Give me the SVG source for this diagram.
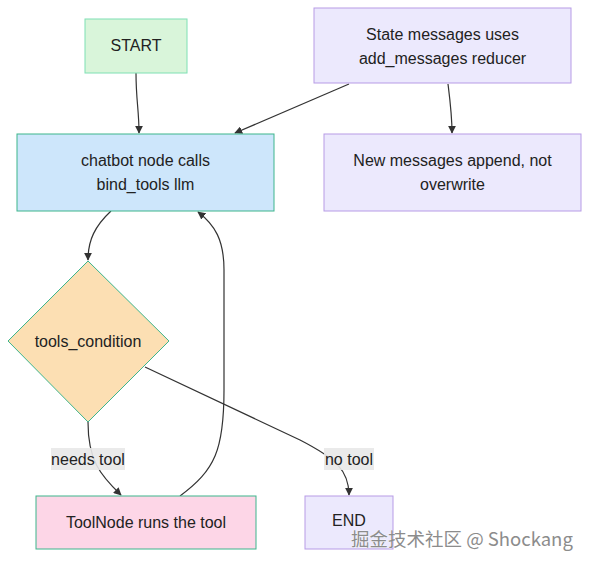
<svg xmlns="http://www.w3.org/2000/svg" width="597" height="565" viewBox="0 0 597 565">
<defs>
<style>
.t{font-family:"Liberation Sans",Arial,sans-serif;font-size:16px;fill:#222;text-anchor:middle;dominant-baseline:central}
.e{fill:none;stroke:#333;stroke-width:1.2}
.lb{fill:#e8e8e8;opacity:0.9}
.wm{font-family:"Noto Sans CJK SC","Noto Sans",sans-serif;font-size:18.5px;fill:#8c8c8c;stroke:#ffffff;stroke-width:0.6;paint-order:stroke}
</style>
<marker id="ah" viewBox="0 0 10 10" refX="9" refY="5" markerWidth="8" markerHeight="8" orient="auto-start-reverse" markerUnits="userSpaceOnUse">
<path d="M0,0 L10,5 L0,10 z" fill="#333"/>
</marker>
</defs>
<rect width="597" height="565" fill="#ffffff"/>
<g id="connectors">
<path class="e" d="M136,73 C136,100 139,110 139,133" marker-end="url(#ah)"/>
<path class="e" d="M349,84 L235,133" marker-end="url(#ah)"/>
<path class="e" d="M448,84 C450,100 452,115 452,133" marker-end="url(#ah)"/>
<path class="e" d="M111,211 C95,226 88,240 88,260" marker-end="url(#ah)"/>
<path class="e" d="M88,422 C88,460 100,475 121,495" marker-end="url(#ah)"/>
<path class="e" d="M180,496 C215,470 224,450 224,390 L224,270 C224,240 215,225 198,212" marker-end="url(#ah)"/>
<path class="e" d="M145,367 L300,440 C335,458 349,470 349,495" marker-end="url(#ah)"/>
<rect class="lb" x="51" y="448" width="74" height="22"/>
<text class="t" x="88" y="459">needs tool</text>
<rect class="lb" x="324" y="448" width="50" height="22"/>
<text class="t" x="349" y="459">no tool</text>
</g>
<g id="start">
<rect x="85" y="19" width="102" height="54" fill="#d9f5da" stroke="#7fe0b4" stroke-width="1"/>
<text class="t" x="136" y="45">START</text>
</g>
<g id="state">
<rect x="314" y="8" width="257" height="75" fill="#ece9fd" stroke="#b79be6" stroke-width="1"/>
<text class="t" x="442.5" y="34">State messages uses</text>
<text class="t" x="442.5" y="58">add_messages reducer</text>
</g>
<g id="chatbot">
<rect x="17" y="134" width="257" height="77" fill="#cde6fb" stroke="#3db58c" stroke-width="1"/>
<text class="t" x="145.5" y="160">chatbot node calls</text>
<text class="t" x="145.5" y="184">bind_tools llm</text>
</g>
<g id="newmsg">
<rect x="324" y="134" width="257" height="77" fill="#ece9fd" stroke="#b79be6" stroke-width="1"/>
<text class="t" x="452.5" y="160">New messages append, not</text>
<text class="t" x="452.5" y="184">overwrite</text>
</g>
<g id="tools_condition">
<polygon points="88,261 169,341 88,422 8,341" fill="#fcdfb3" stroke="#3db58c" stroke-width="1"/>
<text class="t" x="88" y="341">tools_condition</text>
</g>
<g id="toolnode">
<rect x="36" y="496" width="220" height="53" fill="#fdd6e7" stroke="#3db58c" stroke-width="1"/>
<text class="t" x="146" y="522">ToolNode runs the tool</text>
</g>
<g id="end">
<rect x="305" y="496" width="88" height="53" fill="#ece9fd" stroke="#b79be6" stroke-width="1"/>
<text class="t" x="349" y="520">END</text>
</g>
<text class="wm" x="351" y="546">掘金技术社区 @ Shockang</text>
</svg>
